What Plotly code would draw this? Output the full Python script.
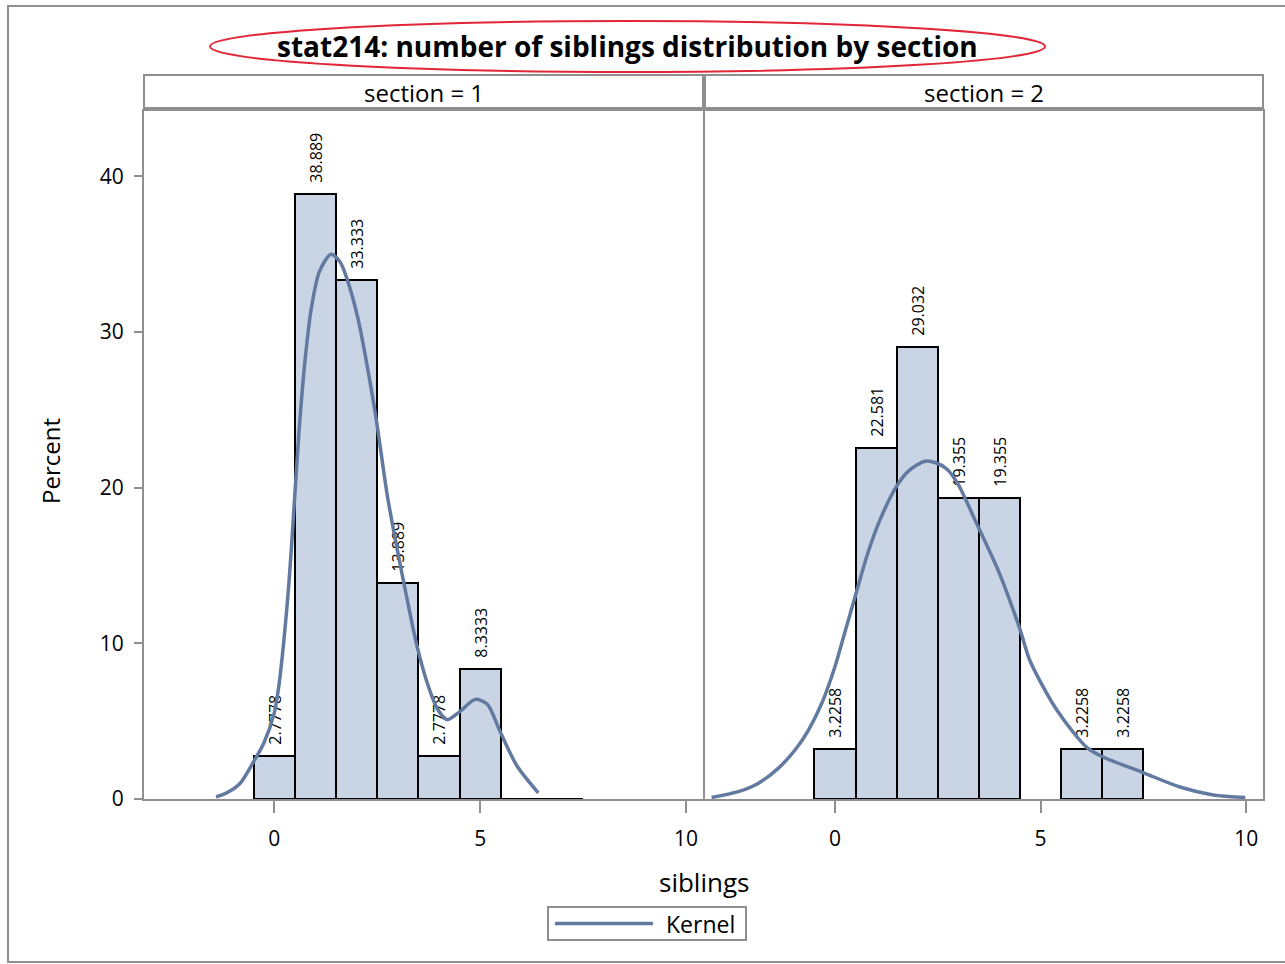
import plotly.graph_objects as go

# ---------------- data ----------------
bins_s1 = [0, 1, 2, 3, 4, 5, 6, 7]
pct_s1 = [2.7778, 38.889, 33.333, 13.889, 2.7778, 8.3333, 0, 0]
lab_s1 = ["2.7778", "38.889", "33.333", "13.889", "2.7778", "8.3333", "", ""]

bins_s2 = [0, 1, 2, 3, 4, 6, 7]
pct_s2 = [3.2258, 22.581, 29.032, 19.355, 19.355, 3.2258, 3.2258]
lab_s2 = ["3.2258", "22.581", "29.032", "19.355", "19.355", "3.2258", "3.2258"]

kx_s1 = [-1.41, -1.15, -0.83, -0.5, -0.25, 0.0, 0.12, 0.24, 0.35, 0.44, 0.6, 0.75,
         0.9, 1.1, 1.38, 1.6, 1.77, 2.04, 2.3, 2.5, 2.74, 2.99, 3.23, 3.47, 3.71,
         3.96, 4.2, 4.5, 4.88, 5.17, 5.49, 5.9, 6.41]
ky_s1 = [0.13, 0.4, 1.0, 2.4, 3.6, 5.5, 7.4, 10.3, 13.6, 17.0, 23.5, 28.2,
         31.5, 33.9, 35.0, 34.5, 33.4, 30.8, 27.2, 24.0, 19.6, 16.0, 12.8, 9.8, 7.5,
         5.8, 5.1, 5.6, 6.4, 6.1, 4.3, 2.1, 0.4]

kx_s2 = [-3.0, -2.35, -1.87, -1.38, -0.97, -0.65, -0.32, 0.0, 0.24, 0.49, 0.8,
         1.09, 1.5, 1.8, 2.19, 2.45, 2.72, 3.0, 3.41, 4.0, 4.5, 4.74, 5.4, 6.13,
         6.52, 7.49, 8.39, 9.2, 9.98]
ky_s2 = [0.1, 0.47, 1.0, 1.97, 3.15, 4.4, 6.15, 8.5, 10.7, 13.0, 15.8,
         17.9, 20.1, 21.1, 21.7, 21.6, 21.2, 20.2, 17.9, 14.5, 10.9, 8.9, 5.7, 3.3,
         2.7, 1.7, 0.77, 0.26, 0.1]

x_ticks = [0, 5, 10]
y_ticks = [0, 10, 20, 30, 40]

title_text = "stat214: number of siblings distribution by section"
panel_titles = ["section = 1", "section = 2"]

# ---------------- style ----------------
W, H = 1285, 964
FONT = "Open Sans"
BAR_FILL = "rgb(201,213,229)"
LINE_COL = "rgb(98,121,160)"
GRID_GRAY = "#8f8f8f"
LABEL_PAD = "\u00a0\u00a0"  # gap between bar top and rotated value label


def px(x):
    return x / W


def py(y):
    return 1 - y / H


fig = go.Figure()

for i, (bx, by, bl, kx, ky) in enumerate([
    (bins_s1, pct_s1, lab_s1, kx_s1, ky_s1),
    (bins_s2, pct_s2, lab_s2, kx_s2, ky_s2),
]):
    xa = "x" if i == 0 else "x2"
    ya = "y" if i == 0 else "y2"
    fig.add_trace(go.Bar(
        x=bx, y=by, width=1,
        text=[(LABEL_PAD + t) if t else "" for t in bl],
        textposition="outside", textangle=-90,
        textfont=dict(family=FONT, size=16, color="black"),
        constraintext="none", cliponaxis=False,
        marker=dict(color=BAR_FILL, line=dict(color="black", width=2)),
        xaxis=xa, yaxis=ya, showlegend=False, hoverinfo="skip",
    ))
    fig.add_trace(go.Scatter(
        x=kx, y=ky, mode="lines",
        line=dict(color=LINE_COL, width=3.5, shape="spline", smoothing=0.8),
        xaxis=xa, yaxis=ya, showlegend=False, name="Kernel",
    ))

x_range = [-3.16, 10.41]
y_range = [0, 44.2]
ydom = [py(799), py(111)]

axis_common = dict(
    showline=True, linecolor=GRID_GRAY, linewidth=2, mirror=True,
    showgrid=False, zeroline=False, automargin=False,
    ticks="outside", ticklen=12, tickwidth=2, tickcolor=GRID_GRAY,
    tickfont=dict(family=FONT, size=21, color="black"),
)

fig.update_layout(
    width=W, height=H, autosize=False,
    margin=dict(l=0, r=0, t=0, b=0, pad=0, autoexpand=False),
    paper_bgcolor="white", plot_bgcolor="white",
    bargap=0, showlegend=False,
    font=dict(family=FONT, color="black"),
    xaxis=dict(domain=[px(144), px(703)], range=x_range, tickvals=x_ticks,
               anchor="y", ticklabelstandoff=8, **axis_common),
    xaxis2=dict(domain=[px(705), px(1263)], range=x_range, tickvals=x_ticks,
                anchor="y2", ticklabelstandoff=8, **axis_common),
    yaxis=dict(domain=ydom, range=y_range, tickvals=y_ticks, anchor="x",
               ticklabelstandoff=6, **{**axis_common, "ticklen": 8}),
    yaxis2=dict(domain=ydom, range=y_range, tickvals=y_ticks, anchor="x2",
                showticklabels=False, **{**axis_common, "ticks": ""}),
)

shapes = []
annotations = []

# outer border
shapes.append(dict(type="rect", xref="paper", yref="paper",
                   x0=px(8), x1=px(1290), y0=py(962), y1=py(6),
                   line=dict(color=GRID_GRAY, width=2)))

# title and ellipse
annotations.append(dict(text="<b>" + title_text + "</b>", xref="paper", yref="paper",
                        x=px(627), y=py(46), showarrow=False,
                        font=dict(family=FONT, size=28, color="black"),
                        xanchor="center", yanchor="middle"))
shapes.append(dict(type="circle", xref="paper", yref="paper",
                   x0=px(210), x1=px(1045), y0=py(72), y1=py(21),
                   line=dict(color="rgb(226,38,56)", width=2)))

# strip headers
for (x0, x1), t in zip([(144, 703), (705, 1263)], panel_titles):
    shapes.append(dict(type="rect", xref="paper", yref="paper",
                       x0=px(x0), x1=px(x1), y0=py(108), y1=py(75),
                       line=dict(color=GRID_GRAY, width=2), fillcolor="white"))
    annotations.append(dict(text=t, xref="paper", yref="paper",
                            x=px((x0 + x1) / 2), y=py(92), showarrow=False,
                            font=dict(family=FONT, size=24, color="black"),
                            xanchor="center", yanchor="middle"))

# axis titles
annotations.append(dict(text="siblings", xref="paper", yref="paper",
                        x=px(704), y=py(882), showarrow=False,
                        font=dict(family=FONT, size=26, color="black"),
                        xanchor="center", yanchor="middle"))
annotations.append(dict(text="Percent", xref="paper", yref="paper",
                        x=px(50), y=py(461), showarrow=False, textangle=-90,
                        font=dict(family=FONT, size=24, color="black"),
                        xanchor="center", yanchor="middle"))

# legend
shapes.append(dict(type="rect", xref="paper", yref="paper",
                   x0=px(548), x1=px(746), y0=py(940), y1=py(907),
                   line=dict(color=GRID_GRAY, width=2), fillcolor="white"))
shapes.append(dict(type="line", xref="paper", yref="paper",
                   x0=px(555), x1=px(653), y0=py(923.5), y1=py(923.5),
                   line=dict(color=LINE_COL, width=3.5)))
annotations.append(dict(text="Kernel", xref="paper", yref="paper",
                        x=px(664), y=py(924), showarrow=False,
                        font=dict(family=FONT, size=23, color="black"),
                        xanchor="left", yanchor="middle"))

fig.update_layout(shapes=shapes, annotations=annotations)

fig.write_html("out.html", config={"responsive": False})
